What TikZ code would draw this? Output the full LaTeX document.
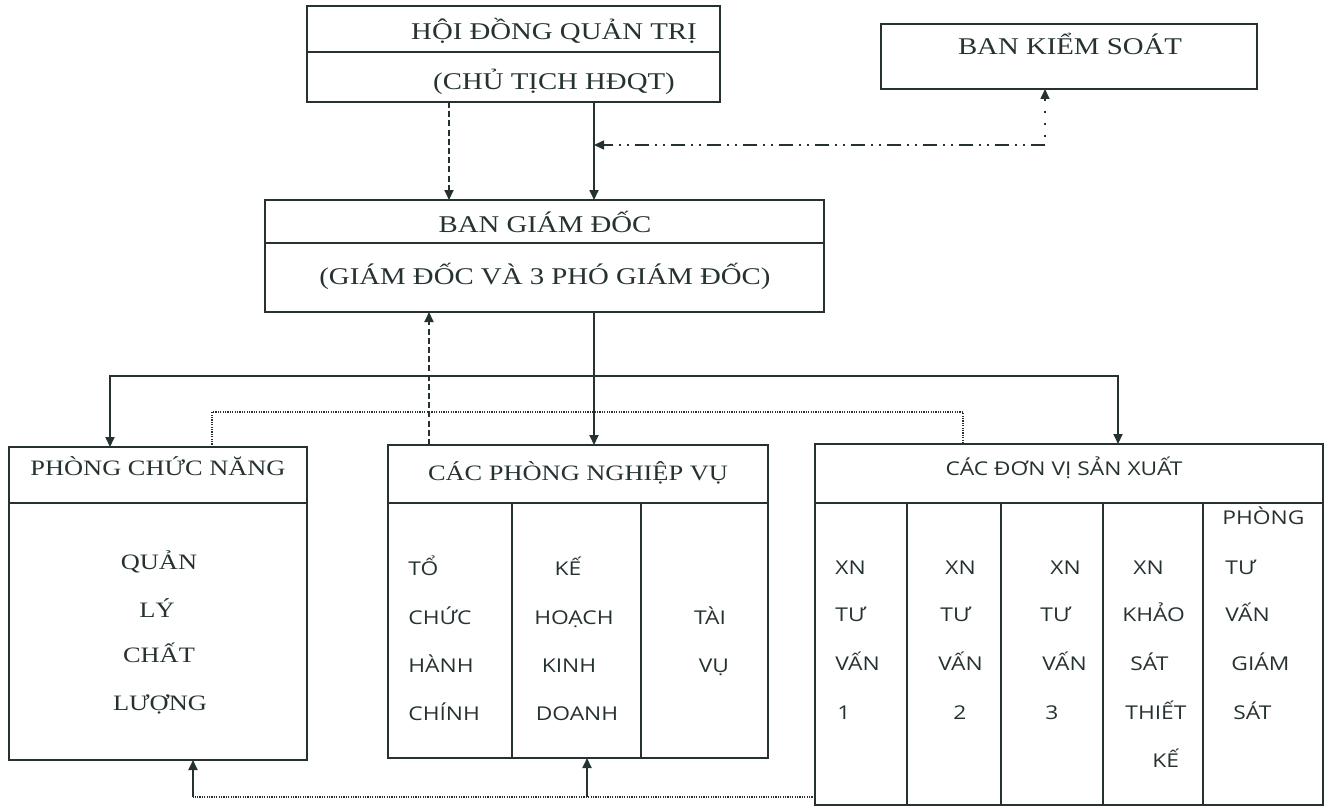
\documentclass[tikz,border=0pt]{standalone}
\usepackage{fontspec}
\setmainfont{Liberation Serif}[FakeStretch=1.2]
\newfontfamily\sansw{Open Sans}[FakeStretch=1.2]
\usetikzlibrary{arrows.meta}
\definecolor{ink}{HTML}{263232}
\begin{document}
\begin{tikzpicture}[x=0.5pt,y=-0.5pt,
  box/.style={draw=ink,line width=1pt,inner sep=0pt,outer sep=0pt},
  ser/.style={inner sep=0pt,anchor=base,text=ink,font=\fontsize{11}{13}\selectfont},
  serbig/.style={inner sep=0pt,anchor=base,text=ink,font=\fontsize{12}{14}\selectfont},
  san/.style={inner sep=0pt,anchor=base west,text=ink,font=\sansw\fontsize{9.5}{11}\selectfont},
  sanc/.style={inner sep=0pt,anchor=base,text=ink,font=\sansw\fontsize{9.5}{11}\selectfont},
  conn/.style={draw=ink,line width=0.9pt},
  divl/.style={draw=ink,line width=0.8pt},
  tipend/.style={-{Triangle[length=5pt,width=4.5pt]}},
  tipboth/.style={{Triangle[length=5pt,width=4.5pt]}-{Triangle[length=5pt,width=4.5pt]}},
  tipstart/.style={{Triangle[length=5pt,width=4.5pt]}-},
  dashln/.style={dash pattern=on 3pt off 1.6pt},
  fined/.style={draw=ink,line width=0.7pt,dash pattern=on 0.6pt off 0.6pt}]
\fill[white] (0,0) rectangle (1331,808);
\useasboundingbox (0,0) rectangle (1331,808);

% boxes
\node[box,minimum width=206.5pt,minimum height=48pt] (hdqt) at (513.5,54) {};
\node[box,minimum width=188pt,minimum height=32.5pt] (bks) at (1069,56.5) {};
\node[box,minimum width=279.5pt,minimum height=56pt] (bgd) at (544.5,256) {};
\node[box,minimum width=149pt,minimum height=156.5pt] (pcn) at (158,603.5) {};
\node[box,minimum width=190pt,minimum height=156.5pt] (cpnv) at (578,601.5) {};
\node[box,minimum width=254pt,minimum height=180.5pt] (cdv) at (1069,624.5) {};

% helper coordinates
\coordinate (yh) at (0,52);
\coordinate (yg) at (0,243);
\coordinate (yr) at (0,503);
\coordinate (c1) at (512,0);
\coordinate (c2) at (641,0);
\coordinate (d1) at (907,0);
\coordinate (d2) at (1001,0);
\coordinate (d3) at (1103,0);
\coordinate (d4) at (1203,0);

% dividers
\draw[divl] (hdqt.west |- yh) -- (hdqt.east |- yh);
\draw[divl] (bgd.west |- yg) -- (bgd.east |- yg);
\draw[divl] (pcn.west |- yr) -- (pcn.east |- yr);
\draw[divl] (cpnv.west |- yr) -- (cpnv.east |- yr);
\draw[divl] (cdv.west |- yr) -- (cdv.east |- yr);
\draw[divl] (c1 |- yr) -- (c1 |- cpnv.south);
\draw[divl] (c2 |- yr) -- (c2 |- cpnv.south);
\draw[divl] (d1 |- yr) -- (d1 |- cdv.south);
\draw[divl] (d2 |- yr) -- (d2 |- cdv.south);
\draw[divl] (d3 |- yr) -- (d3 |- cdv.south);
\draw[divl] (d4 |- yr) -- (d4 |- cdv.south);

% serif texts
\node[serbig] (t1) at (554,40) {HỘI ĐỒNG QUẢN TRỊ};
\node[serbig] (t2) at (554,90) {(CHỦ TỊCH HĐQT)};
\node[serbig] (t3) at (1070,55) {BAN KIỂM SOÁT};
\node[serbig] (t4) at (545,232) {BAN GIÁM ĐỐC};
\node[serbig] (t5) at (545,284) {(GIÁM ĐỐC VÀ 3 PHÓ GIÁM ĐỐC)};
\node[ser] (t6) at (158,475) {PHÒNG CHỨC NĂNG};
\node[ser] (t7) at (159,569) {QUẢN};
\node[ser] (t8) at (157,617) {LÝ};
\node[ser] (t9) at (159,662) {CHẤT};
\node[ser] (t10) at (160,710) {LƯỢNG};
\node[ser] (t11) at (578,480) {CÁC PHÒNG NGHIỆP VỤ};

% sans texts: Cac phong nghiep vu
\node[san] (p1) at (408,575) {TỔ};
\node[san] (p2) at (408,624) {CHỨC};
\node[san] (p3) at (408,672) {HÀNH};
\node[san] (p4) at (408,720) {CHÍNH};
\node[sanc] (p5) at (568,575) {KẾ};
\node[sanc] (p6) at (574,624) {HOẠCH};
\node[sanc] (p7) at (569,672) {KINH};
\node[sanc] (p8) at (577,720) {DOANH};
\node[sanc] (p9) at (710,624) {TÀI};
\node[sanc] (p10) at (714,672) {VỤ};

% Cac don vi san xuat
\node[sanc] (s0) at (1064,475) {CÁC ĐƠN VỊ SẢN XUẤT};
\node[san] (a1) at (835,574) {XN};
\node[san] (a2) at (835,621) {TƯ};
\node[san] (a3) at (835,670) {VẤN};
\node[san] (a4) at (837,719) {1};
\node[san] (b1) at (945,574) {XN};
\node[san] (b2) at (940,621) {TƯ};
\node[san] (b3) at (938,670) {VẤN};
\node[san] (b4) at (953,719) {2};
\node[san] (e1) at (1050,574) {XN};
\node[san] (e2) at (1040,621) {TƯ};
\node[san] (e3) at (1042,670) {VẤN};
\node[san] (e4) at (1045,719) {3};
\node[san] (f1) at (1133,574) {XN};
\node[san] (f2) at (1122,621) {KHẢO};
\node[san] (f3) at (1130,670) {SÁT};
\node[san] (f4) at (1125,719) {THIẾT};
\node[san] (f5) at (1152,767) {KẾ};
\node[san] (g0) at (1222,524) {PHÒNG};
\node[san] (g1) at (1225,574) {TƯ};
\node[san] (g2) at (1225,621) {VẤN};
\node[san] (g3) at (1231,670) {GIÁM};
\node[san] (g4) at (1233,719) {SÁT};

% connector coordinates
\coordinate (xa) at (449,0);
\coordinate (xb) at (594,0);
\coordinate (xc) at (429,0);
\coordinate (xd) at (110,0);
\coordinate (xe) at (1118,0);
\coordinate (xf) at (212,0);
\coordinate (xg) at (963,0);
\coordinate (xh) at (1045,0);
\coordinate (xi) at (193,0);
\coordinate (xj) at (587,0);
\coordinate (ya) at (0,145);
\coordinate (yb) at (0,376);
\coordinate (yc) at (0,412);
\coordinate (yd) at (0,797);

% connectors
\draw[conn,tipend,dashln] (hdqt.south -| xa) -- (bgd.north -| xa);
\draw[conn,tipend] (hdqt.south -| xb) -- (bgd.north -| xb);
\draw[conn,line width=0.8pt,tipstart,dash pattern=on 1pt off 5pt] (bks.south -| xh) -- (xh |- ya);
\draw[conn,line width=0.8pt,tipend,dash pattern=on 7pt off 3pt on 1pt off 3pt on 1pt off 3pt] (xh |- ya) -- (xb |- ya);
\draw[conn,tipend] (bgd.south -| xb) -- (cpnv.north -| xb);
\draw[conn,tipend,dashln] (cpnv.north -| xc) -- (bgd.south -| xc);
\draw[conn,tipboth] (pcn.north -| xd) -- (xd |- yb) -- (xe |- yb) -- (cdv.north -| xe);
\draw[fined] (pcn.north -| xf) -- (xf |- yc) -- (xg |- yc) -- (cdv.north -| xg);
\draw[fined] (cdv.west |- yd) -- (xi |- yd);
\draw[conn,tipend] (xi |- yd) -- (pcn.south -| xi);
\draw[conn,tipend] (xj |- yd) -- (cpnv.south -| xj);
\end{tikzpicture}
\end{document}
